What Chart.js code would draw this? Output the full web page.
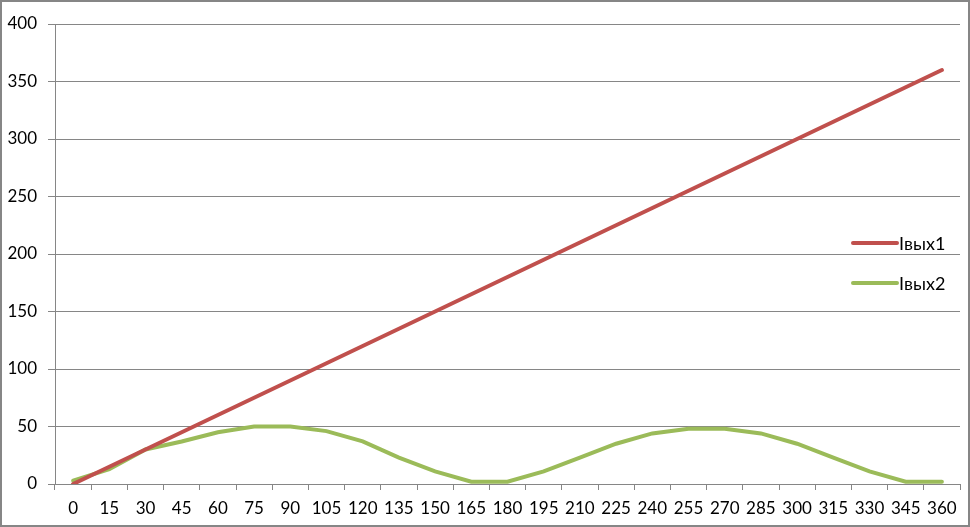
<!DOCTYPE html>
<html>
<head>
<meta charset="utf-8">
<script src="https://cdn.jsdelivr.net/npm/chart.js@4/dist/chart.umd.min.js"></script>
<style>
html,body{margin:0;padding:0;background:#fff;}
#wrap{width:970px;height:527px;position:relative;}
</style>
</head>
<body>
<div id="wrap"><canvas id="c" width="970" height="527"></canvas></div>
<script>
const categories = ["0","15","30","45","60","75","90","105","120","135","150","165","180","195","210","225","240","255","270","285","300","315","330","345","360"];
const seriesNames = ["Iвых1","Iвых2"];
const iOut1 = [0,15,30,45,60,75,90,105,120,135,150,165,180,195,210,225,240,255,270,285,300,315,330,345,360];
const iOut2 = [3,13,30,37,45,50,50,46,37,23,11,2,2,11,23,35,44,48,48,44,35,23,11,2,2];
const yTicks = [0,50,100,150,200,250,300,350,400];

const FONT = "Lato, 'Open Sans', sans-serif";

const bgBorder = {
  id: 'bgBorder',
  beforeDraw(chart) {
    const ctx = chart.ctx;
    ctx.save();
    ctx.fillStyle = '#fff';
    ctx.fillRect(0, 0, chart.width, chart.height);
    ctx.restore();
  },
  afterDraw(chart) {
    const ctx = chart.ctx;
    ctx.save();
    ctx.strokeStyle = '#868686';
    ctx.lineWidth = 2;
    ctx.strokeRect(1, 1, chart.width - 2, chart.height - 2);
    ctx.restore();
  }
};

const customLegend = {
  id: 'customLegend',
  afterDatasetsDraw(chart) {
    const ctx = chart.ctx;
    ctx.save();
    const x0 = 853, len = 44, y0 = 243, gap = 40;
    chart.data.datasets.forEach((ds, i) => {
      const y = y0 + i * gap;
      ctx.strokeStyle = ds.borderColor;
      ctx.lineWidth = 4;
      ctx.lineCap = 'round';
      ctx.beginPath();
      ctx.moveTo(x0, y);
      ctx.lineTo(x0 + len, y);
      ctx.stroke();
      ctx.fillStyle = '#000';
      ctx.font = "18px " + FONT;
      ctx.textBaseline = 'middle';
      ctx.textAlign = 'left';
      ctx.fillText(ds.label, x0 + len + 2, y + 1);
    });
    ctx.restore();
  }
};

new Chart(document.getElementById('c'), {
  type: 'line',
  data: {
    labels: categories,
    datasets: [
      { label: seriesNames[0], data: iOut1, borderColor: '#C0504D', backgroundColor: '#C0504D', borderWidth: 4, pointRadius: 0, tension: 0, borderCapStyle: 'round' },
      { label: seriesNames[1], data: iOut2, borderColor: '#9BBB59', backgroundColor: '#9BBB59', borderWidth: 4, pointRadius: 0, tension: 0, borderCapStyle: 'round' }
    ]
  },
  options: {
    responsive: false,
    animation: false,
    events: [],
    layout: { padding: { top: 24, right: 10, left: 0, bottom: 0 } },
    plugins: { legend: { display: false }, tooltip: { enabled: false } },
    scales: {
      x: {
        offset: true,
        grid: { display: true, drawOnChartArea: false, drawTicks: true, tickLength: 6, offset: true, color: '#868686', lineWidth: 1 },
        border: { display: true, color: '#868686', width: 1 },
        ticks: { color: '#000', font: { family: FONT, size: 17 }, autoSkip: false, maxRotation: 0, minRotation: 0, padding: 8 },
        afterFit(s) { s.height = 43; }
      },
      y: {
        min: 0, max: 400,
        afterBuildTicks(s) { s.ticks = yTicks.map(v => ({ value: v })); },
        grid: { display: true, drawOnChartArea: true, drawTicks: true, tickLength: 7, color: '#868686', lineWidth: 1 },
        border: { display: true, color: '#868686', width: 1 },
        ticks: { color: '#000', font: { family: FONT, size: 17 }, padding: 11 },
        afterFit(s) { s.width = 55; }
      }
    }
  },
  plugins: [bgBorder, customLegend]
});
</script>
</body>
</html>
